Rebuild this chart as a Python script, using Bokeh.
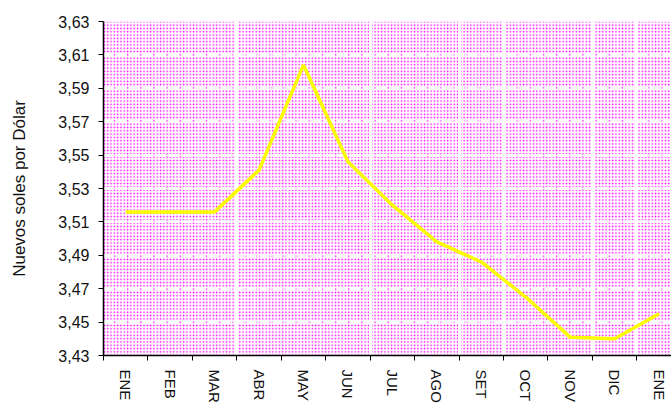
from bokeh.plotting import figure
from bokeh.models import Range1d, FixedTicker, CustomJSTickFormatter, BoxAnnotation
from bokeh.embed import file_html
from bokeh.resources import INLINE

months = ["ENE", "FEB", "MAR", "ABR", "MAY", "JUN", "JUL", "AGO", "SET", "OCT", "NOV", "DIC", "ENE"]
values = [3.516, 3.516, 3.516, 3.541, 3.604, 3.546, 3.520, 3.498, 3.486, 3.465, 3.441, 3.440, 3.455]
y_ticks = [3.43, 3.45, 3.47, 3.49, 3.51, 3.53, 3.55, 3.57, 3.59, 3.61, 3.63]
y_label = "Nuevos soles por Dólar"

FONT = "Liberation Sans"

centers = [i + 0.5 for i in range(len(months))]
bounds = list(range(len(months)))

p = figure(width=671, height=410, output_backend="svg", toolbar_location=None,
           x_range=Range1d(0, 12.78), y_range=Range1d(y_ticks[0], y_ticks[-1]),
           min_border_left=103, min_border_right=0, min_border_top=21, min_border_bottom=55)
p.outline_line_color = None
p.background_fill_color = "white"
p.border_fill_color = "white"

bg = BoxAnnotation(fill_color="white", fill_alpha=1.0, line_color=None,
                   hatch_pattern="dot", hatch_color="#FF00FF", hatch_scale=3.3, hatch_weight=2.2,
                   level="image")
p.add_layout(bg)

p.line(centers, values, line_color="#FFFF00", line_width=3.5)

# y axis
p.yaxis.ticker = FixedTicker(ticks=y_ticks)
p.yaxis.formatter = CustomJSTickFormatter(code="return tick.toFixed(2).replace('.', ',');")
p.yaxis.axis_label = y_label
p.yaxis.axis_label_text_font = FONT
p.yaxis.axis_label_text_font_style = "normal"
p.yaxis.axis_label_text_font_size = "17px"
p.yaxis.axis_label_text_color = "#111111"
p.yaxis.axis_label_standoff = 26
p.yaxis.major_label_text_font = FONT
p.yaxis.major_label_text_font_size = "16px"
p.yaxis.major_label_text_color = "#111111"
p.yaxis.major_label_standoff = 9
p.yaxis.major_tick_out = 5
p.yaxis.major_tick_in = 0
p.yaxis.minor_tick_line_color = None
p.yaxis.axis_line_color = "black"
p.yaxis.axis_line_width = 1.5
p.yaxis.major_tick_line_color = "black"

# x axis
p.xaxis.ticker = FixedTicker(ticks=centers, minor_ticks=bounds)
p.xaxis.major_label_overrides = {c: m for c, m in zip(centers, months)}
p.xaxis.major_label_orientation = "vertical"
p.xaxis.major_label_text_font = FONT
p.xaxis.major_label_text_font_size = "15px"
p.xaxis.major_label_text_color = "#111111"
p.xaxis.major_label_standoff = 8
p.xaxis.major_tick_line_color = None
p.xaxis.minor_tick_line_color = "black"
p.xaxis.minor_tick_out = 5
p.xaxis.minor_tick_in = 0
p.xaxis.axis_line_color = "black"
p.xaxis.axis_line_width = 1.5

# grids
p.ygrid.ticker = FixedTicker(ticks=y_ticks)
p.ygrid.grid_line_color = "white"
p.ygrid.grid_line_width = 3
p.ygrid.grid_line_dash = "10 3"
p.xgrid.ticker = FixedTicker(ticks=[3, 6, 8, 9, 11, 12])
p.xgrid.grid_line_color = "white"
p.xgrid.grid_line_width = 3

open("out.html", "w").write(file_html(p, INLINE))
